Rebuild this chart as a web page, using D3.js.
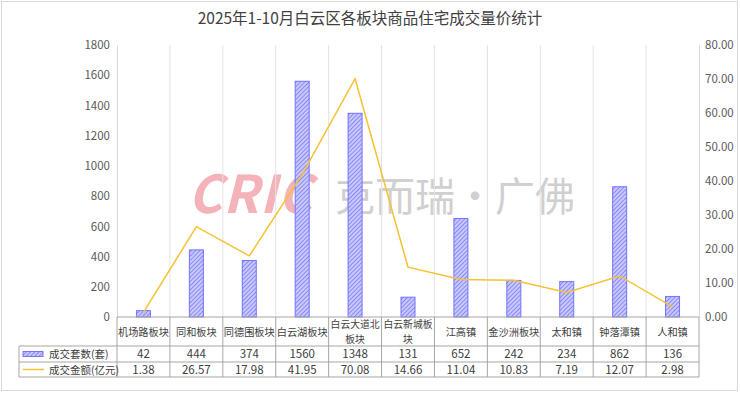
<!DOCTYPE html>
<html>
<head>
<meta charset="utf-8">
<script src="https://cdn.jsdelivr.net/npm/d3@7"></script>
<style>
  body { margin: 0; background: #fff; }
  text { font-family: "Noto Sans CJK SC", "Noto Sans", sans-serif; }
</style>
</head>
<body>
<svg id="chart" width="740" height="398"></svg>
<script>
// data
const categories = ["机场路板块", "同和板块", "同德围板块", "白云湖板块", "白云大道北板块", "白云新城板块", "江高镇", "金沙洲板块", "太和镇", "钟落潭镇", "人和镇"];
const units = [42, 444, 374, 1560, 1348, 131, 652, 242, 234, 862, 136];
const amounts = [1.38, 26.57, 17.98, 41.95, 70.08, 14.66, 11.04, 10.83, 7.19, 12.07, 2.98];
const leftTicks = [0, 200, 400, 600, 800, 1000, 1200, 1400, 1600, 1800];
const rightTicks = [0, 10, 20, 30, 40, 50, 60, 70, 80];
const seriesNames = ["成交套数(套)", "成交金额(亿元)"];
const title = "2025年1-10月白云区各板块商品住宅成交量价统计";

const svg = d3.select("#chart");
const plotLeft = 117, plotRight = 699, plotTop = 45, plotBottom = 317;

// outer frame
svg.append("rect").attr("x", 1.5).attr("y", 1.5).attr("width", 736).attr("height", 389)
  .attr("fill", "#fff").attr("stroke", "#d9d9d9");

svg.append("text").attr("x", 370).attr("y", 24).attr("text-anchor", "middle")
  .attr("font-size", 15.5).attr("fill", "#404040").text(title);

const x = d3.scaleBand().domain(categories).range([plotLeft, plotRight]);
const yL = d3.scaleLinear().domain([0, 1800]).range([plotBottom, plotTop]);
const yR = d3.scaleLinear().domain([0, 80]).range([plotBottom, plotTop]);

// hatch pattern
const defs = svg.append("defs");
const pat = defs.append("pattern").attr("id", "hatch").attr("patternUnits", "userSpaceOnUse")
  .attr("width", 3).attr("height", 3).attr("patternTransform", "rotate(45)");
pat.append("rect").attr("width", 3).attr("height", 3).attr("fill", "#c9c9ff");
pat.append("line").attr("x1", 0).attr("y1", 0).attr("x2", 0).attr("y2", 3)
  .attr("stroke", "#6464f5").attr("stroke-width", 1.3);

// watermark
const wm = svg.append("g");
wm.append("text").attr("x", 188).attr("y", 213).attr("font-size", 52).attr("font-weight", "bold")
  .attr("font-style", "italic").attr("fill", "#f3b3b8").attr("font-family", "DejaVu Sans")
  .attr("letter-spacing", 1).text("CRIC");
wm.append("text").attr("x", 335).attr("y", 211).attr("font-size", 40)
  .attr("fill", "#d0d0d0").text("克而瑞·广佛");

// vertical gridlines at category boundaries
svg.append("g").selectAll("line").data(categories.slice(1)).join("line")
  .attr("x1", d => x(d)).attr("x2", d => x(d)).attr("y1", plotTop).attr("y2", plotBottom)
  .attr("stroke", "#e3e3e3");

// axes
const axL = svg.append("g").attr("transform", `translate(${plotLeft},0)`)
  .call(d3.axisLeft(yL).tickValues(leftTicks).tickSize(0).tickPadding(7).tickFormat(d3.format("d")));
const axR = svg.append("g").attr("transform", `translate(${plotRight},0)`)
  .call(d3.axisRight(yR).tickValues(rightTicks).tickSize(0).tickPadding(6).tickFormat(d => d.toFixed(2)));
[axL, axR].forEach(a => {
  a.select(".domain").attr("stroke", "#d9d9d9");
  a.selectAll("text").attr("font-size", 11.5).attr("fill", "#595959")
    .attr("font-family", "'Liberation Sans', sans-serif");
});

// bars
const bw = 14;
svg.append("g").selectAll("rect").data(units).join("rect")
  .attr("x", (d, i) => x(categories[i]) + x.bandwidth() / 2 - bw / 2)
  .attr("y", d => yL(d)).attr("width", bw).attr("height", d => plotBottom - yL(d))
  .attr("fill", "url(#hatch)").attr("stroke", "#7373ff").attr("stroke-width", 1);

// line
const line = d3.line().x((d, i) => x(categories[i]) + x.bandwidth() / 2).y(d => yR(d));
svg.append("path").datum(amounts).attr("d", line)
  .attr("fill", "none").attr("stroke", "#f6c231").attr("stroke-width", 1.5);

// data table
const tbl = svg.append("g");
const tLeft = 19, r0 = plotBottom, r1 = 346, r2 = 362, r3 = 377;
const border = "#a6a6a6";
const cellText = (xx, yy, t, size, anchor) => tbl.append("text").attr("x", xx).attr("y", yy)
  .attr("text-anchor", anchor || "middle").attr("font-size", size).attr("fill", "#404040").text(t);

// horizontal rules
tbl.append("line").attr("x1", plotLeft).attr("x2", plotRight).attr("y1", r0).attr("y2", r0).attr("stroke", border);
[r1, r2, r3].forEach(r => tbl.append("line").attr("x1", tLeft).attr("x2", plotRight)
  .attr("y1", r).attr("y2", r).attr("stroke", border));
// vertical rules
tbl.append("line").attr("x1", tLeft).attr("x2", tLeft).attr("y1", r1).attr("y2", r3).attr("stroke", border);
categories.forEach(c => tbl.append("line").attr("x1", x(c)).attr("x2", x(c))
  .attr("y1", r0).attr("y2", r3).attr("stroke", border));
tbl.append("line").attr("x1", plotRight).attr("x2", plotRight).attr("y1", r0).attr("y2", r3).attr("stroke", border);

// category header, long names wrap after five characters
categories.forEach(c => {
  const cx = x(c) + x.bandwidth() / 2;
  if (c.length > 5) {
    cellText(cx, r0 + 11, c.slice(0, 5), 9.8);
    cellText(cx, r0 + 26, c.slice(5), 9.8);
  } else {
    cellText(cx, r0 + 18.5, c, 10.2);
  }
});
units.forEach((v, i) => cellText(x(categories[i]) + x.bandwidth() / 2, r1 + 12, v, 11.5));
amounts.forEach((v, i) => cellText(x(categories[i]) + x.bandwidth() / 2, r2 + 12, v.toFixed(2), 11.5));

// legend keys in the table
tbl.append("rect").attr("x", 23).attr("y", 351.5).attr("width", 20).attr("height", 5)
  .attr("fill", "url(#hatch)").attr("stroke", "#7373ff");
tbl.append("line").attr("x1", 23).attr("x2", 44).attr("y1", 369.5).attr("y2", 369.5)
  .attr("stroke", "#f6c231").attr("stroke-width", 1.5);
cellText(49, r1 + 12, seriesNames[0], 10.5, "start");
cellText(49, r2 + 12, seriesNames[1], 10.5, "start");
</script>
</body>
</html>
